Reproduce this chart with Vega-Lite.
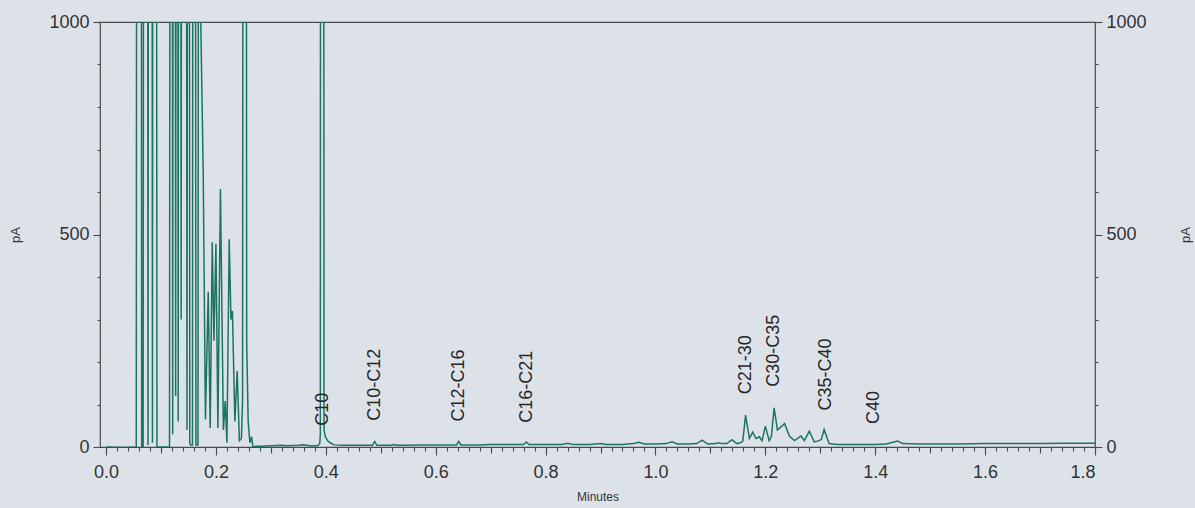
{
  "$schema": "https://vega.github.io/schema/vega-lite/v6.json",
  "width": 995,
  "height": 425,
  "autosize": "none",
  "padding": {"left": 100, "top": 22, "right": 100, "bottom": 61},
  "background": "#dde2e9",
  "config": {
    "font": "Liberation Sans",
    "view": {"stroke": "#4a4a4a", "strokeWidth": 1.2},
    "axis": {"grid": false, "domain": false, "tickColor": "#4a4a4a", "tickWidth": 1.1, "labelColor": "#333333", "titleColor": "#333333", "labelFont": "Liberation Sans", "titleFont": "Liberation Sans", "titleFontWeight": "normal"}
  },
  "datasets": {
    "trace": [
      {"t": 0.0, "v": 0}, {"t": 0.03, "v": -1}, {"t": 0.055, "v": 0},
      {"t": 0.0564, "v": 3000}, {"t": 0.0635, "v": 3000}, {"t": 0.0649, "v": 2}, {"t": 0.0675, "v": 0},
      {"t": 0.0691, "v": 3000}, {"t": 0.075, "v": 3000}, {"t": 0.0764, "v": 5},
      {"t": 0.0775, "v": 3000}, {"t": 0.083, "v": 3000}, {"t": 0.0845, "v": 10},
      {"t": 0.0855, "v": 3000}, {"t": 0.091, "v": 3000}, {"t": 0.0927, "v": 0},
      {"t": 0.1, "v": 0}, {"t": 0.1155, "v": 0},
      {"t": 0.1173, "v": 3000}, {"t": 0.12, "v": 3000}, {"t": 0.1213, "v": 30},
      {"t": 0.1227, "v": 3000}, {"t": 0.1255, "v": 3000}, {"t": 0.1267, "v": 120},
      {"t": 0.1282, "v": 3000}, {"t": 0.13, "v": 3000}, {"t": 0.1313, "v": 60},
      {"t": 0.1327, "v": 3000}, {"t": 0.1355, "v": 3000}, {"t": 0.1367, "v": 300},
      {"t": 0.1382, "v": 3000}, {"t": 0.1455, "v": 3000}, {"t": 0.1473, "v": 40},
      {"t": 0.1491, "v": 3000}, {"t": 0.1509, "v": 3000}, {"t": 0.1524, "v": 10},
      {"t": 0.1536, "v": 5}, {"t": 0.1573, "v": 5},
      {"t": 0.1587, "v": 3000}, {"t": 0.1618, "v": 3000}, {"t": 0.1636, "v": 5}, {"t": 0.1673, "v": 5},
      {"t": 0.1691, "v": 3000}, {"t": 0.1718, "v": 1050}, {"t": 0.1769, "v": 642},
      {"t": 0.1809, "v": 65}, {"t": 0.186, "v": 365}, {"t": 0.1896, "v": 45},
      {"t": 0.1933, "v": 482}, {"t": 0.1964, "v": 250}, {"t": 0.2, "v": 478},
      {"t": 0.2036, "v": 45}, {"t": 0.2082, "v": 607}, {"t": 0.2136, "v": 40},
      {"t": 0.2169, "v": 108}, {"t": 0.22, "v": 10}, {"t": 0.2242, "v": 489},
      {"t": 0.2273, "v": 300}, {"t": 0.23, "v": 320}, {"t": 0.2345, "v": 60},
      {"t": 0.2387, "v": 179}, {"t": 0.2427, "v": 15}, {"t": 0.2464, "v": 20},
      {"t": 0.2485, "v": 110}, {"t": 0.25, "v": 3000}, {"t": 0.2545, "v": 3000},
      {"t": 0.256, "v": 245}, {"t": 0.2587, "v": 60}, {"t": 0.2618, "v": 10},
      {"t": 0.2649, "v": 24}, {"t": 0.2673, "v": 0}, {"t": 0.2727, "v": 2},
      {"t": 0.28, "v": 2}, {"t": 0.3, "v": 3}, {"t": 0.32, "v": 4}, {"t": 0.33, "v": 3},
      {"t": 0.35, "v": 4}, {"t": 0.36, "v": 5}, {"t": 0.37, "v": 3}, {"t": 0.385, "v": 3},
      {"t": 0.389, "v": 8}, {"t": 0.39, "v": 30}, {"t": 0.3908, "v": 3000}, {"t": 0.3955, "v": 3000},
      {"t": 0.3968, "v": 40}, {"t": 0.399, "v": 25}, {"t": 0.403, "v": 15}, {"t": 0.408, "v": 10},
      {"t": 0.415, "v": 5}, {"t": 0.43, "v": 4}, {"t": 0.45, "v": 4}, {"t": 0.47, "v": 4},
      {"t": 0.485, "v": 4}, {"t": 0.489, "v": 13}, {"t": 0.493, "v": 4}, {"t": 0.5, "v": 4},
      {"t": 0.52, "v": 4}, {"t": 0.525, "v": 6}, {"t": 0.53, "v": 4}, {"t": 0.55, "v": 4},
      {"t": 0.58, "v": 5}, {"t": 0.6, "v": 5}, {"t": 0.62, "v": 5}, {"t": 0.638, "v": 5},
      {"t": 0.642, "v": 13}, {"t": 0.646, "v": 5}, {"t": 0.66, "v": 5}, {"t": 0.68, "v": 5},
      {"t": 0.7, "v": 6}, {"t": 0.72, "v": 6}, {"t": 0.74, "v": 6}, {"t": 0.76, "v": 6},
      {"t": 0.765, "v": 12}, {"t": 0.77, "v": 6}, {"t": 0.8, "v": 6}, {"t": 0.83, "v": 6},
      {"t": 0.84, "v": 9}, {"t": 0.85, "v": 6}, {"t": 0.88, "v": 6}, {"t": 0.9, "v": 8},
      {"t": 0.91, "v": 6}, {"t": 0.94, "v": 6}, {"t": 0.96, "v": 8}, {"t": 0.97, "v": 11},
      {"t": 0.98, "v": 7}, {"t": 1.0, "v": 7}, {"t": 1.02, "v": 8}, {"t": 1.03, "v": 12},
      {"t": 1.04, "v": 7}, {"t": 1.06, "v": 7}, {"t": 1.075, "v": 8}, {"t": 1.085, "v": 16},
      {"t": 1.095, "v": 7}, {"t": 1.11, "v": 8}, {"t": 1.115, "v": 10}, {"t": 1.12, "v": 8},
      {"t": 1.13, "v": 8}, {"t": 1.139, "v": 17}, {"t": 1.148, "v": 8}, {"t": 1.155, "v": 10},
      {"t": 1.159, "v": 14}, {"t": 1.164, "v": 75}, {"t": 1.171, "v": 20}, {"t": 1.177, "v": 35},
      {"t": 1.183, "v": 20}, {"t": 1.189, "v": 24}, {"t": 1.194, "v": 15}, {"t": 1.2, "v": 49},
      {"t": 1.207, "v": 15}, {"t": 1.211, "v": 25}, {"t": 1.216, "v": 92}, {"t": 1.222, "v": 40},
      {"t": 1.235, "v": 55}, {"t": 1.244, "v": 25}, {"t": 1.253, "v": 15}, {"t": 1.265, "v": 26},
      {"t": 1.271, "v": 15}, {"t": 1.28, "v": 37}, {"t": 1.289, "v": 12}, {"t": 1.298, "v": 15},
      {"t": 1.302, "v": 18}, {"t": 1.307, "v": 41}, {"t": 1.316, "v": 8}, {"t": 1.33, "v": 6},
      {"t": 1.36, "v": 6}, {"t": 1.4, "v": 6}, {"t": 1.42, "v": 7}, {"t": 1.441, "v": 14},
      {"t": 1.45, "v": 8}, {"t": 1.48, "v": 7}, {"t": 1.5, "v": 7}, {"t": 1.55, "v": 7},
      {"t": 1.6, "v": 8}, {"t": 1.65, "v": 8}, {"t": 1.7, "v": 8}, {"t": 1.75, "v": 9}, {"t": 1.8, "v": 9}
    ],
    "labels": [
      {"t": 0.395, "v": 50, "label": "C10"},
      {"t": 0.489, "v": 62, "label": "C10-C12"},
      {"t": 0.642, "v": 60, "label": "C12-C16"},
      {"t": 0.766, "v": 57, "label": "C16-C21"},
      {"t": 1.165, "v": 124, "label": "C21-30"},
      {"t": 1.215, "v": 142, "label": "C30-C35"},
      {"t": 1.31, "v": 86, "label": "C35-C40"},
      {"t": 1.398, "v": 54, "label": "C40"}
    ]
  },
  "data": {"name": "trace"},
  "resolve": {"axis": {"x": "independent", "y": "independent"}},
  "layer": [
    {
      "mark": {"type": "point", "opacity": 0, "clip": true},
      "encoding": {
        "x": {"field": "t", "type": "quantitative", "scale": {"domain": [-0.011, 1.8], "nice": false, "zero": false},
          "axis": {"values": [0,0.02,0.04,0.06,0.08,0.1,0.12,0.14,0.16,0.18,0.2,0.22,0.24,0.26,0.28,0.3,0.32,0.34,0.36,0.38,0.4,0.42,0.44,0.46,0.48,0.5,0.52,0.54,0.56,0.58,0.6,0.62,0.64,0.66,0.68,0.7,0.72,0.74,0.76,0.78,0.8,0.82,0.84,0.86,0.88,0.9,0.92,0.94,0.96,0.98,1.0,1.02,1.04,1.06,1.08,1.1,1.12,1.14,1.16,1.18,1.2,1.22,1.24,1.26,1.28,1.3,1.32,1.34,1.36,1.38,1.4,1.42,1.44,1.46,1.48,1.5,1.52,1.54,1.56,1.58,1.6,1.62,1.64,1.66,1.68,1.7,1.72,1.74,1.76,1.78,1.8], "labels": false, "tickSize": 4, "title": null, "orient": "bottom"}},
        "y": {"field": "v", "type": "quantitative", "scale": {"domain": [0, 1000], "nice": false},
          "axis": {"values": [0,100,200,300,400,500,600,700,800,900,1000], "labels": false, "tickSize": 3, "title": null, "orient": "left"}}
      }
    },
    {
      "mark": {"type": "point", "opacity": 0, "clip": true},
      "encoding": {
        "x": {"field": "t", "type": "quantitative", "scale": {"domain": [-0.011, 1.8], "nice": false, "zero": false},
          "axis": {"values": [0.1,0.3,0.5,0.7,0.9,1.1,1.3,1.5,1.7], "labels": false, "tickSize": 6, "title": null, "orient": "bottom"}},
        "y": {"field": "v", "type": "quantitative", "scale": {"domain": [0, 1000], "nice": false},
          "axis": {"values": [0,100,200,300,400,500,600,700,800,900,1000], "labels": false, "tickSize": 3, "title": null, "orient": "right"}}
      }
    },
    {
      "mark": {"type": "point", "opacity": 0, "clip": true},
      "encoding": {
        "x": {"field": "t", "type": "quantitative", "scale": {"domain": [-0.011, 1.8], "nice": false, "zero": false}, "axis": null},
        "y": {"field": "v", "type": "quantitative", "scale": {"domain": [0, 1000], "nice": false},
          "axis": {"values": [0, 500, 1000], "format": "d", "tickSize": 7, "labelFontSize": 18, "labelPadding": 4, "title": "pA", "titleFontSize": 13, "titleAngle": 270, "titleBaseline": "middle", "titlePadding": 39, "orient": "right"}}
      }
    },
    {
      "mark": {"type": "line", "color": "#1b7364", "strokeWidth": 1.5, "clip": true},
      "encoding": {
        "x": {"field": "t", "type": "quantitative", "sort": null, "scale": {"domain": [-0.011, 1.8], "nice": false, "zero": false},
          "axis": {"values": [0,0.2,0.4,0.6,0.8,1.0,1.2,1.4,1.6,1.8], "format": ".1f", "tickSize": 8, "labelFontSize": 18, "labelPadding": 8, "title": "Minutes", "titleFontSize": 12, "titlePadding": 10, "orient": "bottom"}},
        "y": {"field": "v", "type": "quantitative", "scale": {"domain": [0, 1000], "nice": false},
          "axis": {"values": [0, 500, 1000], "format": "d", "tickSize": 7, "labelFontSize": 18, "labelPadding": 4, "title": "pA", "titleFontSize": 13, "titlePadding": 26, "orient": "left"}}
      }
    },
    {
      "data": {"name": "labels"},
      "mark": {"type": "text", "angle": 270, "align": "left", "baseline": "middle", "fontSize": 18, "color": "#262626"},
      "encoding": {
        "x": {"field": "t", "type": "quantitative", "scale": {"domain": [-0.011, 1.8], "nice": false, "zero": false}, "axis": null},
        "y": {"field": "v", "type": "quantitative", "scale": {"domain": [0, 1000], "nice": false}, "axis": null},
        "text": {"field": "label"}
      }
    }
  ]
}
